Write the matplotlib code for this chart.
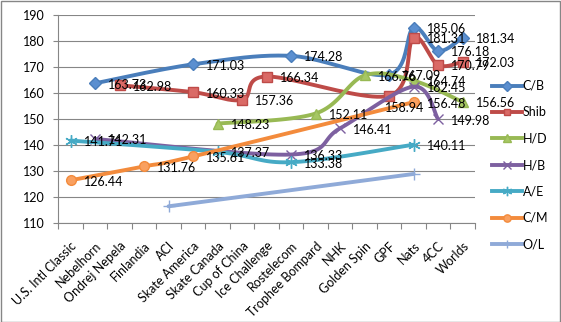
import numpy as np
import matplotlib
matplotlib.use("Agg")
import matplotlib.pyplot as plt
from matplotlib.lines import Line2D
from matplotlib.patches import Rectangle

plt.rcParams['font.family'] = ['Lato', 'DejaVu Sans']

nan = np.nan
EVENTS = ["U.S. Intl Classic", "Nebelhorn", "Ondrej Nepela", "Finlandia", "ACI",
          "Skate America", "Skate Canada", "Cup of China", "Ice Challenge", "Rostelecom",
          "Trophee Bompard", "NHK", "Golden Spin", "GPF", "Nats", "4CC", "Worlds"]
#        US    Neb     Ond     Fin     ACI     SA      SC      CoC     IC      Ros     TB      NHK     GS      GPF     Nats    4CC     Worlds
CB   = [nan, 163.73, nan,    nan,    nan,    171.03, nan,    nan,    nan,    174.28, nan,    nan,    nan,    167.09, 185.06, 176.18, 181.34]
SHIB = [nan, nan,    162.98, nan,    nan,    160.33, nan,    157.36, 166.34, nan,    nan,    nan,    nan,    158.94, 181.31, 170.79, 172.03]
HD   = [nan, nan,    nan,    nan,    nan,    nan,    148.23, nan,    nan,    nan,    152.11, nan,    166.76, nan,    164.74, nan,    156.56]
HB   = [nan, 142.31, nan,    nan,    nan,    nan,    nan,    nan,    nan,    136.33, nan,    146.41, nan,    nan,    162.45, 149.98, nan]
AE   = [141.71, nan, nan,    nan,    nan,    nan,    137.37, nan,    nan,    133.38, nan,    nan,    nan,    nan,    140.11, nan,    nan]
CM   = [126.44, nan, nan,    131.76, nan,    135.61, nan,    nan,    nan,    nan,    nan,    nan,    nan,    nan,    156.48, nan,    nan]
OL   = [nan, nan,    nan,    nan,    116.42, nan,    nan,    nan,    nan,    nan,    nan,    nan,    nan,    nan,    128.86, nan,    nan]

# name, values, color, marker, marker size, marker face, show labels
SERIES = [
    ("C/B",  CB,   "#4A7EBB", "D", 6.5, "#5B8FD0", True),
    ("Shib", SHIB, "#BE4B48", "s", 6.5, "#DA6A66", True),
    ("H/D",  HD,   "#98B954", "^", 7.5, "#A6C764", True),
    ("H/B",  HB,   "#7D60A0", "x", 7.0, "#7D60A0", True),
    ("A/E",  AE,   "#46AAC5", (6, 2, 0), 9.0, "#46AAC5", True),
    ("C/M",  CM,   "#F38B3C", "o", 7.0, "#F9A060", True),
    ("O/L",  OL,   "#8FAAD8", "+", 8.0, "#8FAAD8", False),
]

# odd label placements seen in the original
LABEL_OFFSETS = {("Shib", 13): (-4, -12)}


def smooth(xs, ys, n=24):
    """Bezier smoothing through the points (Excel style smoothed line)."""
    pts = np.column_stack([xs, ys]).astype(float)
    if len(pts) < 3:
        return pts[:, 0], pts[:, 1]
    P = np.vstack([pts[0], pts, pts[-1]])
    t = np.linspace(0, 1, n)[:, None]
    out = []
    for i in range(1, len(P) - 2):
        p0, p1, p2, p3 = P[i - 1], P[i], P[i + 1], P[i + 2]
        c1 = p1 + (p2 - p0) / 6
        c2 = p2 - (p3 - p1) / 6
        seg = (1 - t) ** 3 * p1 + 3 * (1 - t) ** 2 * t * c1 + 3 * (1 - t) * t ** 2 * c2 + t ** 3 * p2
        out.append(seg if i == 1 else seg[1:])
    out = np.vstack(out)
    return out[:, 0], out[:, 1]


FS = 9
fig = plt.figure(figsize=(5.61, 3.22), dpi=100)
ax = fig.add_axes([58.3 / 561, 1 - 223 / 322, (474.8 - 58.3) / 561, (223 - 15) / 322])

grey = "#868686"
x_all = np.arange(len(EVENTS))
handles = []
for z, (name, vals, col, mk, ms, mfc, lab) in enumerate(SERIES):
    v = np.array(vals, dtype=float)
    m = np.isfinite(v)
    xs, ys = x_all[m], v[m]
    sx, sy = smooth(xs, ys)
    ax.plot(sx, sy, color=col, lw=2.8, solid_capstyle="round", zorder=2 + z)
    ax.plot(xs, ys, ls="none", marker=mk, ms=ms, mfc=mfc, mec=col, mew=1.0, zorder=2 + z)
    if lab:
        for xi, yi in zip(xs, ys):
            off = LABEL_OFFSETS.get((name, xi), (13, -1.5))
            ax.annotate(f"{yi:.2f}", (xi, yi), xytext=off, textcoords="offset pixels",
                        ha="left", va="center", fontsize=FS, color="black", zorder=20)
    handles.append(Line2D([], [], color=col, lw=2.8, marker=mk, ms=ms * 0.75,
                          mfc=mfc, mec=col, mew=1.0))

ax.set_xlim(-0.5, len(EVENTS) - 0.5)
ax.set_ylim(110, 190)
ax.set_yticks(np.arange(110, 191, 10))
ax.set_xticks(x_all)
ax.set_xticklabels(EVENTS, rotation=45, ha="right", va="top", rotation_mode="anchor", fontsize=FS)
ax.set_xticks(np.arange(-0.5, len(EVENTS), 1), minor=True)
ax.tick_params(axis="x", which="major", length=0, pad=12)
ax.tick_params(axis="x", which="minor", length=4, color=grey, width=0.8)
ax.tick_params(axis="y", length=3.5, color=grey, width=0.8, pad=6, labelsize=FS)
ax.grid(axis="y", color=grey, lw=0.8)
ax.set_axisbelow(True)
for s in ("top", "right"):
    ax.spines[s].set_visible(False)
for s in ("left", "bottom"):
    ax.spines[s].set_color(grey)
    ax.spines[s].set_linewidth(0.8)

fig.legend(handles, [s[0] for s in SERIES], loc="upper left",
           bbox_to_anchor=(492 / 561, 1 - 80 / 322), frameon=False, fontsize=FS,
           handlelength=2.4, handletextpad=0.05, labelspacing=1.15, borderaxespad=0,
           borderpad=0, numpoints=1)

fig.patches.append(Rectangle((0.5 / 561, 0.5 / 322), 559.5 / 561, 320.5 / 322,
                             transform=fig.transFigure, fill=False, ec=grey, lw=1.0))

fig.savefig("out.png", dpi=100)
